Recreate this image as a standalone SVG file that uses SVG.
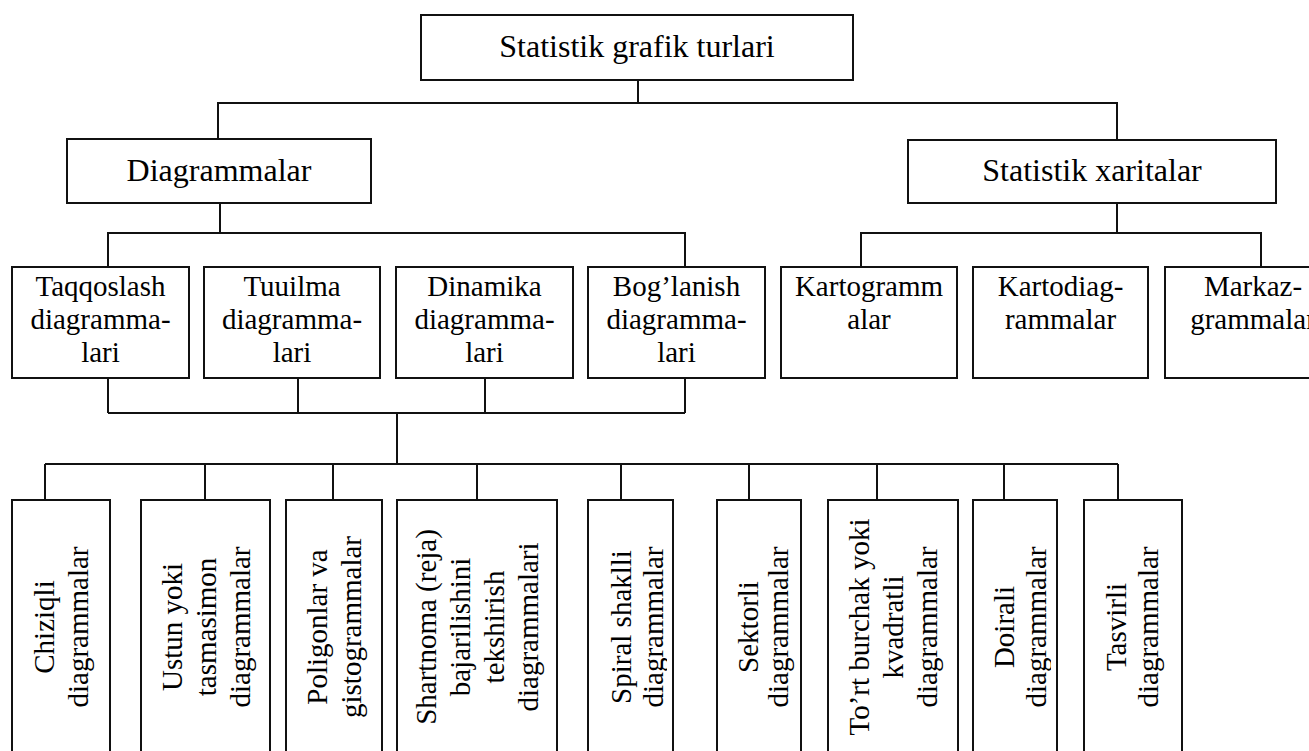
<svg xmlns="http://www.w3.org/2000/svg" width="1309" height="751" viewBox="0 0 1309 751">
<style>
rect.box{fill:#fff;stroke:#111;stroke-width:2}
.con path{fill:none;stroke:#111;stroke-width:2}
text{font-family:"Liberation Serif","Times New Roman",serif;fill:#000;text-anchor:middle}
.t1{font-size:32px}
.t3{font-size:29px}
.tv{font-size:29px}
</style>
<defs>
<clipPath id="cSpiral"><rect x="588" y="500" width="79" height="260"/></clipPath>
<clipPath id="cSektor"><rect x="717" y="500" width="78" height="260"/></clipPath>
<clipPath id="cDoira"><rect x="973" y="500" width="78" height="260"/></clipPath>
</defs>
<rect width="1309" height="751" fill="#fff"/>
<g class="con" id="connectors">
<path d="M638 80V103M218 139V103H1117V140"/>
<path d="M220 203V233M108 267V233H685V267"/>
<path d="M1117 203V233M861 267V233H1261V267"/>
<path d="M108 378V413M298 378V413M485 378V413M685 378V413M108 413H685M397 413V464"/>
<path d="M45 464H1118M45 464V500M205 464V500M333 464V500M477 464V500M621 464V500M749 464V500M877 464V500M1004 464V500M1118 464V500"/>
</g>
<g id="n-root"><rect class="box" x="421" y="15" width="432" height="65"/><text class="t1" x="637" y="57">Statistik grafik turlari</text></g>
<g id="n-diag"><rect class="box" x="67" y="139" width="304" height="64"/><text class="t1" x="219" y="181">Diagrammalar</text></g>
<g id="n-xarita"><rect class="box" x="908" y="140" width="368" height="63"/><text class="t1" x="1092" y="181">Statistik xaritalar</text></g>
<g id="n-taqq"><rect class="box" x="12" y="267" width="177" height="111"/><text class="t3"><tspan x="100.5" y="296">Taqqoslash</tspan><tspan x="100.5" y="329">diagramma-</tspan><tspan x="100.5" y="362">lari</tspan></text></g>
<g id="n-tuuil"><rect class="box" x="204" y="267" width="176" height="111"/><text class="t3"><tspan x="292" y="296">Tuuilma</tspan><tspan x="292" y="329">diagramma-</tspan><tspan x="292" y="362">lari</tspan></text></g>
<g id="n-dinam"><rect class="box" x="396" y="267" width="177" height="111"/><text class="t3"><tspan x="484.5" y="296">Dinamika</tspan><tspan x="484.5" y="329">diagramma-</tspan><tspan x="484.5" y="362">lari</tspan></text></g>
<g id="n-boglan"><rect class="box" x="588" y="267" width="177" height="111"/><text class="t3"><tspan x="676.5" y="296">Bog’lanish</tspan><tspan x="676.5" y="329">diagramma-</tspan><tspan x="676.5" y="362">lari</tspan></text></g>
<g id="n-kartog"><rect class="box" x="781" y="267" width="176" height="111"/><text class="t3"><tspan x="869" y="296">Kartogramm</tspan><tspan x="869" y="329">alar</tspan></text></g>
<g id="n-kartod"><rect class="box" x="973" y="267" width="175" height="111"/><text class="t3"><tspan x="1060.5" y="296">Kartodiag-</tspan><tspan x="1060.5" y="329">rammalar</tspan></text></g>
<g id="n-markaz"><rect class="box" x="1165" y="267" width="176" height="111"/><text class="t3"><tspan x="1253" y="296">Markaz-</tspan><tspan x="1253" y="329">grammalar</tspan></text></g>
<g id="n-chiz"><rect class="box" x="12" y="500" width="98" height="262"/><text class="tv" transform="translate(71,627) rotate(-90)"><tspan x="0" y="-17">Chiziqli</tspan><tspan x="0" y="17">diagrammalar</tspan></text></g>
<g id="n-ustun"><rect class="box" x="141" y="500" width="129" height="262"/><text class="tv" transform="translate(215.5,627) rotate(-90)"><tspan x="0" y="-34">Ustun yoki</tspan><tspan x="0" y="0">tasmasimon</tspan><tspan x="0" y="34">diagrammalar</tspan></text></g>
<g id="n-polig"><rect class="box" x="286" y="500" width="96" height="262"/><text class="tv" transform="translate(344,627) rotate(-90)"><tspan x="0" y="-17">Poligonlar va</tspan><tspan x="0" y="17">gistogrammalar</tspan></text></g>
<g id="n-shart"><rect class="box" x="397" y="500" width="160" height="262"/><text class="tv" transform="translate(487,627) rotate(-90)"><tspan x="0" y="-51">Shartnoma (reja)</tspan><tspan x="0" y="-17">bajarilishini</tspan><tspan x="0" y="17">tekshirish</tspan><tspan x="0" y="51">diagrammalari</tspan></text></g>
<g id="n-spiral"><rect class="box" x="588" y="500" width="85" height="262"/><g clip-path="url(#cSpiral)"><text class="tv" transform="translate(647,627) rotate(-90)"><tspan x="0" y="-16">Spiral shaklli</tspan><tspan x="0" y="16">diagrammalar</tspan></text></g></g>
<g id="n-sektor"><rect class="box" x="717" y="500" width="84" height="262"/><g clip-path="url(#cSektor)"><text class="tv" transform="translate(773,627) rotate(-90)"><tspan x="0" y="-15">Sektorli</tspan><tspan x="0" y="15">diagrammalar</tspan></text></g></g>
<g id="n-tort"><rect class="box" x="828" y="500" width="130" height="262"/><text class="tv" transform="translate(903,627) rotate(-90)"><tspan x="0" y="-34">To’rt burchak yoki</tspan><tspan x="0" y="0">kvadratli</tspan><tspan x="0" y="34">diagrammalar</tspan></text></g>
<g id="n-doira"><rect class="box" x="973" y="500" width="84" height="262"/><g clip-path="url(#cDoira)"><text class="tv" transform="translate(1030,627) rotate(-90)"><tspan x="0" y="-16">Doirali</tspan><tspan x="0" y="16">diagrammalar</tspan></text></g></g>
<g id="n-tasvir"><rect class="box" x="1084" y="500" width="98" height="262"/><text class="tv" transform="translate(1142,627) rotate(-90)"><tspan x="0" y="-16">Tasvirli</tspan><tspan x="0" y="16">diagrammalar</tspan></text></g>
</svg>
